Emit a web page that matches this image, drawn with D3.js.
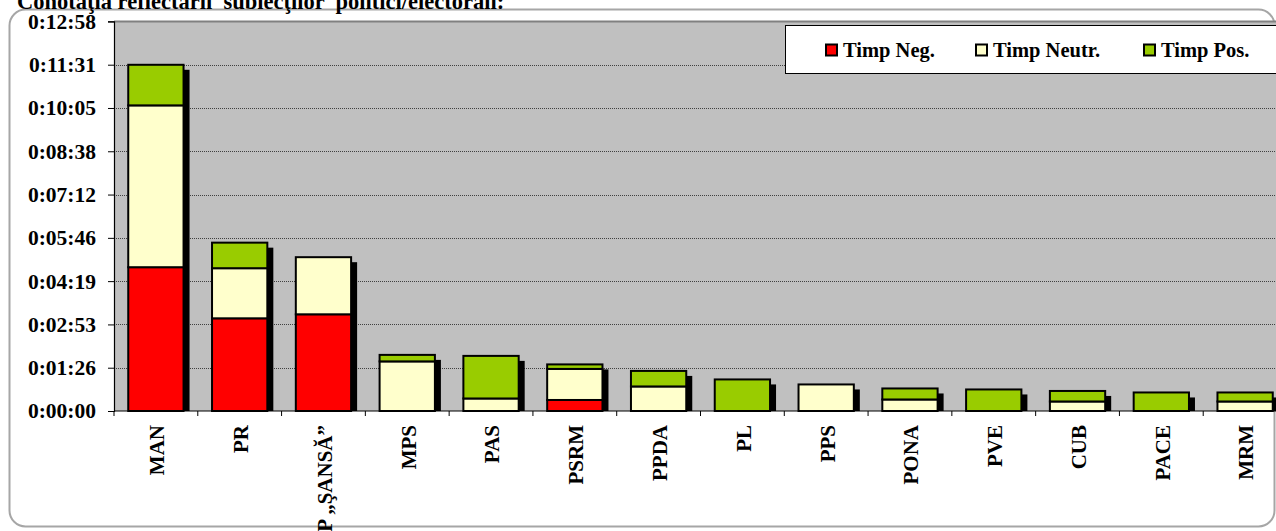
<!DOCTYPE html>
<html>
<head>
<meta charset="utf-8">
<script src="https://cdn.jsdelivr.net/npm/d3@7/dist/d3.min.js"></script>
<style>
  html, body { margin: 0; padding: 0; background: #fff; overflow: hidden; }
  svg { display: block; }
  text { font-family: "Liberation Serif", "Times New Roman", serif; font-weight: bold; fill: #000; }
</style>
</head>
<body>
<svg id="chart" width="1276" height="531"></svg>
<script>
// ---- data (seconds) ----
const title = "Conotaţia reflectării  subiecţilor  politici/electorali:";
const categories = ["MAN", "PR", "PP „ŞANSĂ”", "MPS", "PAS", "PSRM", "PPDA", "PL", "PPS", "PONA", "PVE", "CUB", "PACE", "MRM"];
const timpNeg   = [287, 185, 193, 0, 0, 22, 0, 0, 0, 0, 0, 0, 0, 0];
const timpNeutr = [323, 100, 114, 99, 25, 62, 49, 0, 53, 23, 0, 19, 0, 19];
const timpPos   = [81, 51, 0, 13, 85, 9, 31, 63, 0, 22, 43, 21, 37, 18];
const seriesNames = ["Timp Neg.", "Timp Neutr.", "Timp Pos."];
const seriesColors = ["#FF0000", "#FFFFCC", "#99CC00"];
const tickValues = [0, 86.4, 172.8, 259.2, 345.6, 432, 518.4, 604.8, 691.2, 777.6];
const tickLabels = ["0:00:00", "0:01:26", "0:02:53", "0:04:19", "0:05:46", "0:07:12", "0:08:38", "0:10:05", "0:11:31", "0:12:58"];

const svg = d3.select("#chart");

// outer rounded frame
svg.append("rect")
  .attr("x", 9.5).attr("y", 9.5).attr("width", 1265).attr("height", 517)
  .attr("rx", 16).attr("ry", 16)
  .attr("fill", "#fff").attr("stroke", "#a6a6a6").attr("stroke-width", 2);

// title
svg.append("text").attr("x", 17).attr("y", 9)
  .attr("font-size", 22.5).style("white-space", "pre").text(title);

const plot = { left: 114, right: 1287, top: 21.4, bottom: 411 };

const x = d3.scaleBand().domain(categories)
  .range([plot.left, plot.right]).paddingInner(0.34).paddingOuter(0.17);
const y = d3.scaleLinear().domain([0, 777.6]).range([plot.bottom, plot.top]);

// plot background
svg.append("rect")
  .attr("x", plot.left).attr("y", plot.top)
  .attr("width", plot.right - plot.left).attr("height", plot.bottom - plot.top)
  .attr("fill", "#C0C0C0");
svg.append("line")
  .attr("x1", plot.left).attr("x2", plot.right)
  .attr("y1", plot.top).attr("y2", plot.top)
  .attr("stroke", "#808080").attr("stroke-width", 2);

// gridlines
svg.append("g").selectAll("line").data(tickValues.slice(1, -1)).join("line")
  .attr("x1", plot.left).attr("x2", plot.right)
  .attr("y1", d => Math.round(y(d)) + 0.5).attr("y2", d => Math.round(y(d)) + 0.5)
  .attr("stroke", "#404040").attr("stroke-width", 1).attr("stroke-dasharray", "1,1");

// y axis
const yAxis = d3.axisLeft(y).tickValues(tickValues)
  .tickFormat((d, i) => tickLabels[i]).tickSize(6).tickPadding(12);
const gy = svg.append("g").attr("transform", `translate(${plot.left},0)`).call(yAxis);
gy.select(".domain").attr("stroke", "#000").attr("stroke-width", 1.2);
gy.selectAll(".tick line").attr("stroke", "#000");
gy.selectAll("text").attr("font-size", 21.5).attr("font-family", "Liberation Serif, serif").attr("font-weight", "bold");

// x axis (ticks at category boundaries)
svg.append("line").attr("x1", plot.left).attr("x2", plot.right)
  .attr("y1", plot.bottom).attr("y2", plot.bottom).attr("stroke", "#000").attr("stroke-width", 1.2);
const step = x.step();
svg.append("g").selectAll("line").data(d3.range(categories.length + 1)).join("line")
  .attr("x1", i => plot.left + i * step).attr("x2", i => plot.left + i * step)
  .attr("y1", plot.bottom).attr("y2", plot.bottom + 5)
  .attr("stroke", "#000").attr("stroke-width", 1);
svg.append("g").selectAll("text").data(categories).join("text")
  .attr("transform", d => `translate(${x(d) + x.bandwidth() / 2 + 1},${plot.bottom + 14}) rotate(-90)`)
  .attr("text-anchor", "end").attr("dy", "0.35em").attr("font-size", 21)
  .text(d => d);

// stacked data
const rows = categories.map((c, i) => ({ cat: c, neg: timpNeg[i], neutr: timpNeutr[i], pos: timpPos[i] }));
const keys = ["neg", "neutr", "pos"];
const stacked = d3.stack().keys(keys)(rows);

// shadows
svg.append("g").selectAll("rect").data(rows).join("rect")
  .attr("x", d => x(d.cat) + 6)
  .attr("y", d => y(d.neg + d.neutr + d.pos) + 5)
  .attr("width", x.bandwidth())
  .attr("height", d => plot.bottom - (y(d.neg + d.neutr + d.pos) + 5))
  .attr("fill", "#000");

// bars
svg.append("g").selectAll("g").data(stacked).join("g")
  .attr("fill", (s, i) => seriesColors[i])
  .selectAll("rect").data(s => s.filter(d => d[1] - d[0] > 0)).join("rect")
  .attr("x", d => x(d.data.cat))
  .attr("y", d => y(d[1]))
  .attr("width", x.bandwidth())
  .attr("height", d => y(d[0]) - y(d[1]))
  .attr("stroke", "#000").attr("stroke-width", 2);

// legend
const lg = svg.append("g");
lg.append("rect").attr("x", 785.5).attr("y", 25.5).attr("width", 520).attr("height", 48)
  .attr("fill", "#fff").attr("stroke", "#000").attr("stroke-width", 1);
const legendX = [825, 975, 1143];
seriesNames.forEach((n, i) => {
  lg.append("rect").attr("x", legendX[i] + 1).attr("y", 44.5).attr("width", 11).attr("height", 11)
    .attr("fill", seriesColors[i]).attr("stroke", "#000").attr("stroke-width", 2);
  lg.append("text").attr("x", legendX[i] + 18).attr("y", 57).attr("font-size", 20.5).text(n);
});
</script>
</body>
</html>
